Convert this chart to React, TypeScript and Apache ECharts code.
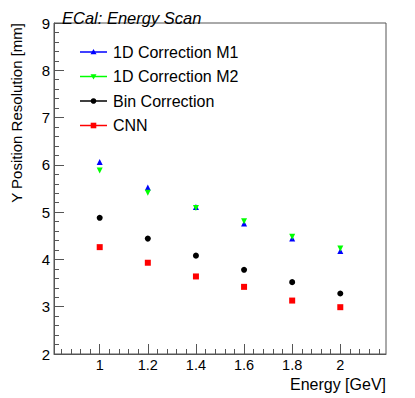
import React, { useEffect, useRef } from "react";
import * as echarts from "echarts";

const energies = [1.0, 1.2, 1.4, 1.6, 1.8, 2.0];
const m1Values = [6.06, 5.52, 5.11, 4.76, 4.44, 4.18];
const m2Values = [5.88, 5.41, 5.09, 4.81, 4.48, 4.23];
const binValues = [4.88, 4.44, 4.08, 3.78, 3.52, 3.28];
const cnnValues = [4.26, 3.93, 3.64, 3.42, 3.13, 2.99];
const seriesNames = ["1D Correction M1", "1D Correction M2", "Bin Correction", "CNN"];
const xMajorTicks = [1.0, 1.2, 1.4, 1.6, 1.8, 2.0];
const xMinorTicks = [
  0.84, 0.88, 0.92, 0.96, 1.04, 1.08, 1.12, 1.16, 1.24, 1.28, 1.32, 1.36,
  1.44, 1.48, 1.52, 1.56, 1.64, 1.68, 1.72, 1.76, 1.84, 1.88, 1.92, 1.96,
  2.04, 2.08, 2.12, 2.16,
];

const FONT = "'Liberation Sans', Arial, Helvetica, sans-serif";
const COLORS = ["#0000ff", "#00ff00", "#000000", "#ff0000"];
const SYMBOLS = ["triangle", "triangle", "circle", "rect"];
const ROTS = [0, 180, 0, 0];
const SIZES = [6, 6, 6, 6];

export default function App() {
  const ref = useRef<HTMLDivElement>(null);
  useEffect(() => {
    if (!ref.current) return;
    const chart = echarts.init(ref.current, undefined, { renderer: "svg" });
    const values = [m1Values, m2Values, binValues, cnnValues];
    const series = seriesNames.map((name, k) => ({
      name,
      type: "scatter",
      data: energies.map((x, i) => [x, values[k][i]]),
      symbol: SYMBOLS[k],
      symbolSize: SIZES[k],
      symbolRotate: ROTS[k],
      itemStyle: { color: COLORS[k], opacity: 1 },
      xAxisIndex: 0,
      yAxisIndex: 0,
      z: 5,
    }));

    // manual ROOT-style legend (line + marker + label)
    const legendGraphics: any[] = [];
    const rowY = [52, 76.5, 101, 125.5];
    seriesNames.forEach((name, k) => {
      const y = rowY[k];
      const c = COLORS[k];
      legendGraphics.push({
        type: "line",
        shape: { x1: 80, y1: y, x2: 107, y2: y },
        style: { stroke: c, lineWidth: 1.5 },
      });
      const cx = 93.5;
      if (k === 0) {
        legendGraphics.push({
          type: "polygon",
          shape: { points: [[cx, y - 3], [cx - 3, y + 2.2], [cx + 3, y + 2.2]] },
          style: { fill: c },
        });
      } else if (k === 1) {
        legendGraphics.push({
          type: "polygon",
          shape: { points: [[cx, y + 3], [cx - 3, y - 2.2], [cx + 3, y - 2.2]] },
          style: { fill: c },
        });
      } else if (k === 2) {
        legendGraphics.push({ type: "circle", shape: { cx, cy: y, r: 2.8 }, style: { fill: c } });
      } else {
        legendGraphics.push({ type: "rect", shape: { x: cx - 2.8, y: y - 2.8, width: 5.6, height: 5.6 }, style: { fill: c } });
      }
      legendGraphics.push({
        type: "text",
        x: 113,
        y: y,
        style: { text: name, fontSize: 16, fontFamily: FONT, fill: "#000", align: "left", verticalAlign: "middle" },
      });
    });

    chart.setOption({
      animation: false,
      textStyle: { fontFamily: FONT },
      title: {
        text: "ECal: Energy Scan",
        left: 57,
        top: 4,
        textStyle: { fontFamily: FONT, fontStyle: "italic", fontWeight: "normal", fontSize: 16.5, color: "#000" },
      },
      grid: {
        left: 54,
        right: 29,
        top: 23,
        bottom: 44,
        show: true,
        borderColor: "#555",
        borderWidth: 1,
        backgroundColor: "transparent",
      },
      xAxis: [
        {
          type: "value",
          min: 0.81,
          max: 2.19,
          axisLine: { show: true, onZero: false, lineStyle: { color: "#555", width: 1 } },
          axisTick: { show: true, inside: true, length: 10, customValues: xMajorTicks, lineStyle: { color: "#555" } },
          axisLabel: {
            show: true,
            customValues: xMajorTicks,
            margin: 3,
            fontSize: 14.5,
            color: "#000",
            fontFamily: FONT,
            formatter: (v: number) => String(Math.round(v * 10) / 10),
          },
          splitLine: { show: false },
        },
        {
          type: "value",
          min: 0.81,
          max: 2.19,
          position: "bottom",
          axisLine: { show: false },
          axisTick: { show: true, inside: true, length: 5, customValues: xMinorTicks, lineStyle: { color: "#555" } },
          axisLabel: { show: false },
          splitLine: { show: false },
        },
      ],
      yAxis: {
        type: "value",
        min: 2,
        max: 9,
        interval: 1,
        axisLine: { show: true, onZero: false, lineStyle: { color: "#555", width: 1 } },
        axisTick: { show: true, inside: true, length: 10, lineStyle: { color: "#555" } },
        minorTick: { show: true, splitNumber: 5, length: 5, lineStyle: { color: "#555" } },
        axisLabel: { fontSize: 15, color: "#000", margin: 4, fontFamily: FONT },
        splitLine: { show: false },
      },
      graphic: [
        {
          type: "text",
          x: 16,
          y: 23,
          rotation: Math.PI / 2,
          style: {
            text: "Y Position Resolution [mm]",
            fontSize: 15,
            fontFamily: FONT,
            fill: "#000",
            align: "right",
            verticalAlign: "middle",
          },
        },
        {
          type: "text",
          x: 386,
          y: 384,
          style: {
            text: "Energy [GeV]",
            fontSize: 16,
            fontFamily: FONT,
            fill: "#000",
            align: "right",
            verticalAlign: "middle",
          },
        },
        ...legendGraphics,
      ],
      series,
    });
    return () => chart.dispose();
  }, []);
  return <div ref={ref} style={{ width: 415, height: 398, position: "absolute", left: 0, top: 0 }} />;
}
